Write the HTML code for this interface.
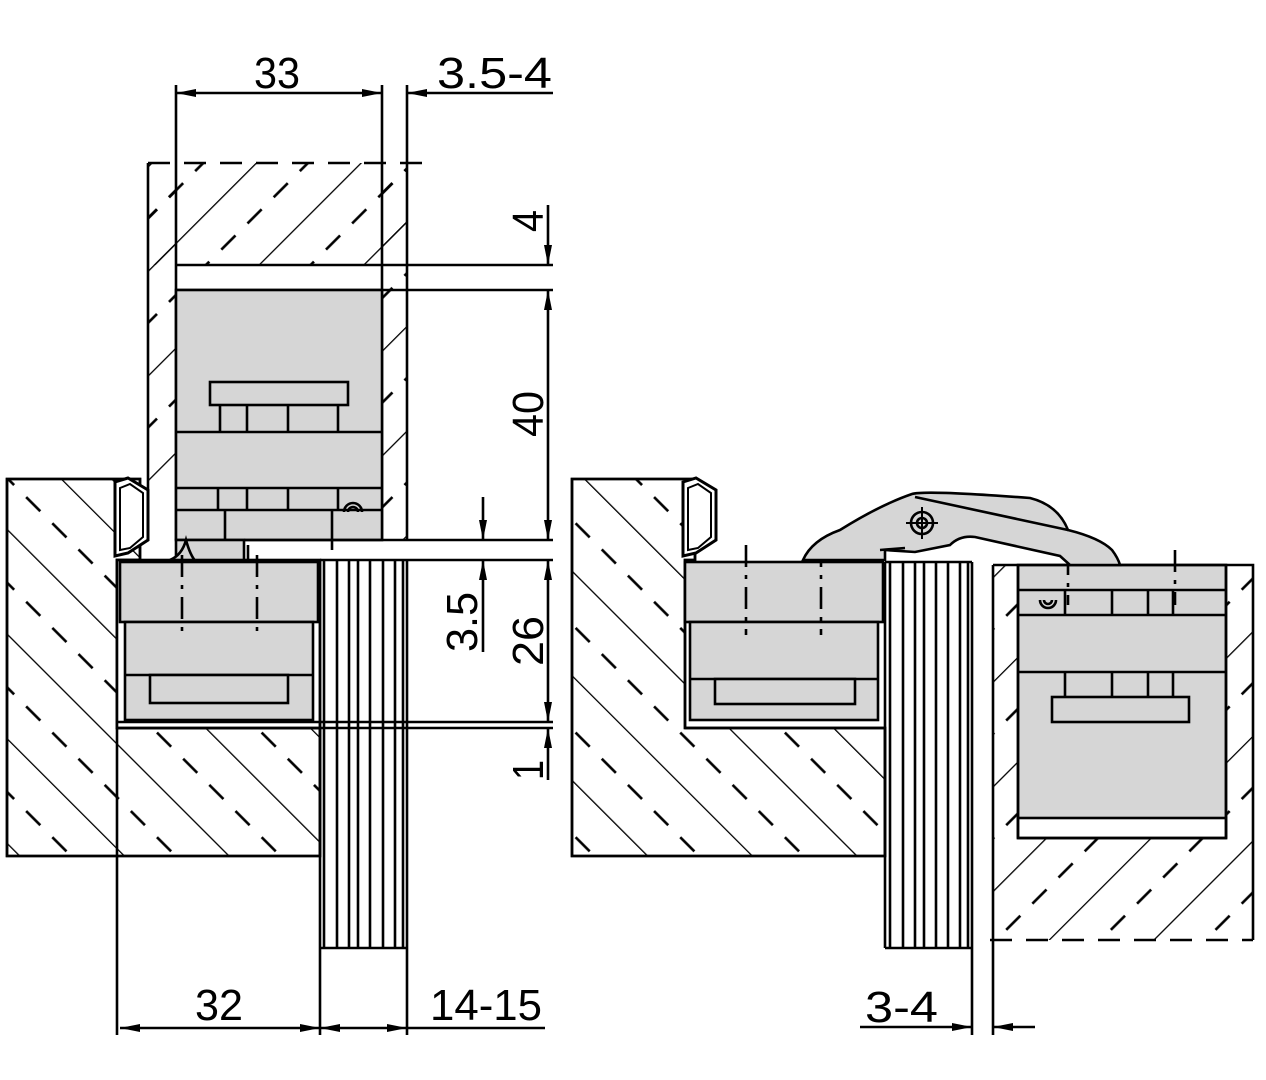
<!DOCTYPE html>
<html><head><meta charset="utf-8"><style>
html,body{margin:0;padding:0;background:#fff}
svg{display:block}
text{font-family:"Liberation Sans",sans-serif;font-size:44px;fill:#000}
</style></head><body>
<svg width="1266" height="1080" viewBox="0 0 1266 1080" xmlns="http://www.w3.org/2000/svg">
<defs>
<pattern id="hb" width="74" height="74" patternUnits="userSpaceOnUse" patternTransform="rotate(-45)">
<line x1="0" y1="0" x2="0" y2="74" stroke="#000" stroke-width="2.6"/>
<line x1="37" y1="0" x2="37" y2="74" stroke="#000" stroke-width="2.6" stroke-dasharray="20 17"/>
</pattern>
<pattern id="hf" width="74" height="74" patternUnits="userSpaceOnUse" patternTransform="rotate(45)">
<line x1="0" y1="0" x2="0" y2="74" stroke="#000" stroke-width="2.6"/>
<line x1="37" y1="0" x2="37" y2="74" stroke="#000" stroke-width="2.6" stroke-dasharray="20 17"/>
</pattern>
<marker id="ar" viewBox="0 0 20 8" refX="20" refY="4" markerWidth="20" markerHeight="8" markerUnits="userSpaceOnUse" orient="auto-start-reverse"><path d="M0,0 L20,4 L0,8z" fill="#000"/></marker>
</defs>
<g stroke="#000" stroke-width="2.6" fill="none">

<rect x="148" y="163" width="259" height="102" fill="url(#hf)" stroke="none"/>
<rect x="148" y="163" width="28" height="327" fill="url(#hf)" stroke="none"/>
<rect x="382" y="163" width="25" height="377" fill="url(#hf)" stroke="none"/>
<rect x="176" y="265" width="206" height="25" fill="#fff" stroke="none"/>
<line x1="148" y1="163" x2="422" y2="163" stroke-dasharray="22 14"/>
<line x1="148" y1="163" x2="148" y2="490"/>
<line x1="176" y1="85" x2="176" y2="540"/>
<line x1="382" y1="85" x2="382" y2="540"/>
<line x1="407" y1="85" x2="407" y2="540"/>
<line x1="176" y1="265" x2="553" y2="265"/>
<line x1="176" y1="290" x2="553" y2="290"/>
<rect x="176" y="290" width="206" height="250" fill="#d6d6d6"/>
<rect x="210" y="382" width="138" height="23" fill="#d6d6d6"/>
<path d="M220,405V432M247,405V432M288,405V432M338,405V432"/>
<line x1="176" y1="432" x2="382" y2="432"/>
<line x1="176" y1="488" x2="382" y2="488"/>
<line x1="176" y1="510" x2="382" y2="510"/>
<path d="M218,488V510M247,488V510M288,488V510M338,488V510"/>
<path d="M344,512a9,9 0 0 1 18,0M348,512a5,5 0 0 1 10,0"/>
<path d="M225,510V550M332,510V550"/>
<rect x="176" y="540" width="68" height="22" fill="#d6d6d6"/>
<path d="M170,560q12,-5 16,-20q4,15 10,22" fill="#d6d6d6"/>
<line x1="244" y1="540" x2="553" y2="540"/>
<line x1="248" y1="545" x2="248" y2="560"/>

<path d="M7,479H140V560H117V728H320V856H7Z" fill="url(#hb)"/>
<path d="M7,479H140V560H117V728H320V856H7Z"/>
<line x1="117" y1="728" x2="117" y2="1035"/>
<path d="M115,482L128,478L148,490V540L128,553L115,556Z" fill="#fff" stroke-width="3"/>
<path d="M120,488L130,484L143,493V537L130,548L120,550Z" stroke-width="2"/>
<rect x="117" y="560" width="203" height="168" fill="#fff"/>
<rect x="120" y="562" width="198" height="60" fill="#d6d6d6"/>
<rect x="125" y="622" width="188" height="98" fill="#d6d6d6"/>
<line x1="125" y1="675" x2="313" y2="675"/>
<rect x="150" y="675" width="138" height="28" fill="#d6d6d6"/>
<path d="M182,555V635M257,555V635" stroke-dasharray="22 8 4 8"/>
<line x1="320" y1="560" x2="553" y2="560"/>
<line x1="117" y1="722" x2="553" y2="722"/>
<line x1="117" y1="728" x2="553" y2="728"/>
<path d="M320,560V948M324,560V948M337,560V948M349,560V948M358,560V948M370,560V948M383,560V948M395,560V948M403,560V948M407,560V1035"/>
<line x1="320" y1="948" x2="320" y2="1035"/>
<line x1="320" y1="948" x2="407" y2="948"/>

<line x1="176" y1="93" x2="382" y2="93" marker-start="url(#ar)" marker-end="url(#ar)"/>
<line x1="407" y1="93" x2="553" y2="93" marker-start="url(#ar)"/>
<line x1="548" y1="205" x2="548" y2="265" marker-end="url(#ar)"/>
<line x1="548" y1="290" x2="548" y2="540" marker-start="url(#ar)" marker-end="url(#ar)"/>
<line x1="548" y1="560" x2="548" y2="722" marker-start="url(#ar)" marker-end="url(#ar)"/>
<line x1="548" y1="728" x2="548" y2="780" marker-start="url(#ar)"/>
<line x1="483" y1="497" x2="483" y2="540" marker-end="url(#ar)"/>
<line x1="483" y1="560" x2="483" y2="652" marker-start="url(#ar)"/>
<line x1="120" y1="1028" x2="320" y2="1028" marker-start="url(#ar)" marker-end="url(#ar)"/>
<line x1="320" y1="1028" x2="407" y2="1028" marker-start="url(#ar)" marker-end="url(#ar)"/>
<line x1="407" y1="1028" x2="545" y2="1028"/>

<path d="M572,479H695V560H685V728H885V856H572Z" fill="url(#hb)"/>
<path d="M572,479H695V560H685V728H885V856H572Z"/>
<path d="M683,482L696,478L716,490V540L696,553L683,556Z" fill="#fff" stroke-width="3"/>
<path d="M688,488L698,484L711,493V537L698,548L688,550Z" stroke-width="2"/>
<rect x="685" y="562" width="198" height="60" fill="#d6d6d6"/>
<rect x="690" y="622" width="188" height="98" fill="#d6d6d6"/>
<line x1="690" y1="679" x2="878" y2="679"/>
<rect x="715" y="679" width="140" height="25" fill="#d6d6d6"/>
<path d="M746,545V635M821,545V635" stroke-dasharray="22 8 4 8"/>
<line x1="685" y1="728" x2="885" y2="728"/>
<path d="M885,562V948M890,562V948M903,562V948M915,562V948M924,562V948M936,562V948M948,562V948M960,562V948M968,562V948M972,562V1035"/>
<line x1="885" y1="562" x2="972" y2="562"/>
<line x1="885" y1="948" x2="972" y2="948"/>

<rect x="993" y="565" width="260" height="375" fill="url(#hf)" stroke="none"/>
<rect x="1018" y="565" width="208" height="273" fill="#d6d6d6"/>
<rect x="1018" y="818" width="208" height="20" fill="#fff"/>
<path d="M993,565H1253V940M993,565V1035"/>
<line x1="990" y1="940" x2="1253" y2="940" stroke-dasharray="22 14"/>
<line x1="1226" y1="565" x2="1226" y2="838"/>
<line x1="1018" y1="838" x2="1226" y2="838"/>
<line x1="1018" y1="565" x2="1018" y2="838"/>
<line x1="1018" y1="590" x2="1226" y2="590"/>
<line x1="1018" y1="615" x2="1226" y2="615"/>
<path d="M1065,590V615M1112,590V615M1148,590V615M1173,590V615"/>
<line x1="1018" y1="672" x2="1226" y2="672"/>
<path d="M1065,672V697M1112,672V697M1148,672V697M1173,672V697"/>
<rect x="1052" y="697" width="137" height="25" fill="#d6d6d6"/>
<path d="M1040,600a8,8 0 0 0 16,0M1044,600a4,4 0 0 0 8,0"/>
<path d="M1068,553V605M1175,550V605" stroke-dasharray="22 8 4 8"/>
<path d="M803,560Q812,540 840,530Q880,505 912,494Q925,490 1030,498Q1058,505 1068,530Q1100,538 1112,550Q1118,558 1120,565H1070L1060,556L975,537Q960,535 950,545L915,552L885,550V560Z" fill="#d6d6d6"/>
<path d="M915,497L1068,530"/>
<path d="M880,550L905,548"/>
<circle cx="922" cy="523" r="11"/><circle cx="922" cy="523" r="5"/>
<path d="M922,507V539M906,523H938" stroke-width="2"/>
<line x1="860" y1="1027" x2="972" y2="1027" marker-end="url(#ar)"/>
<line x1="993" y1="1027" x2="1035" y2="1027" marker-start="url(#ar)"/>
</g>
<text x="254" y="88" textLength="46" lengthAdjust="spacingAndGlyphs">33</text>
<text x="437" y="88" textLength="115" lengthAdjust="spacingAndGlyphs">3.5-4</text>
<text x="195" y="1020" textLength="48" lengthAdjust="spacingAndGlyphs">32</text>
<text x="430" y="1020" textLength="112" lengthAdjust="spacingAndGlyphs">14-15</text>
<text x="865" y="1022" textLength="73" lengthAdjust="spacingAndGlyphs">3-4</text>
<text transform="translate(543,232) rotate(-90)" textLength="22" lengthAdjust="spacingAndGlyphs">4</text>
<text transform="translate(543,437) rotate(-90)" textLength="46" lengthAdjust="spacingAndGlyphs">40</text>
<text transform="translate(543,666) rotate(-90)" textLength="50" lengthAdjust="spacingAndGlyphs">26</text>
<text transform="translate(543,780) rotate(-90)" textLength="20" lengthAdjust="spacingAndGlyphs">1</text>
<text transform="translate(477,652) rotate(-90)" textLength="60" lengthAdjust="spacingAndGlyphs">3.5</text>
</svg>
</body></html>
